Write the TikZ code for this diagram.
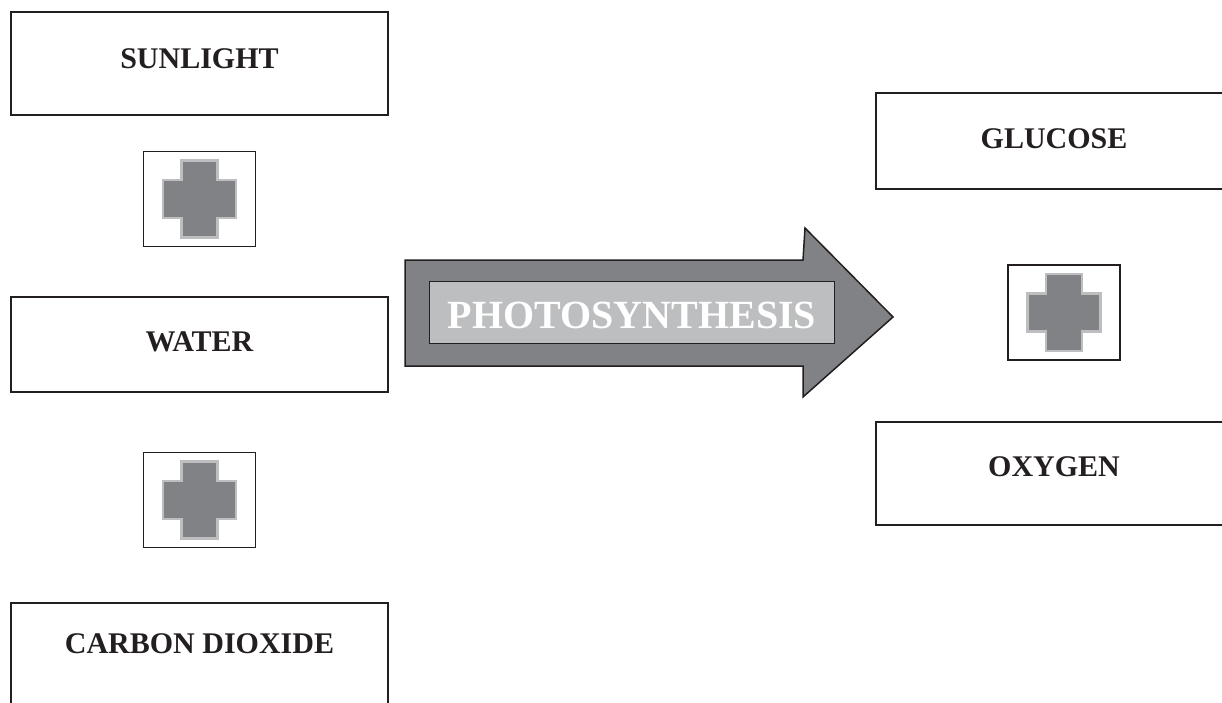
\documentclass[tikz,border=0pt]{standalone}
\usepackage{fontspec}
\setmainfont{Liberation Serif}
\usepackage{xcolor}
\usepackage{tikz}

\definecolor{ink}{HTML}{231F20}
\definecolor{arrowgray}{HTML}{808285}
\definecolor{palegray}{HTML}{BCBEC0}

\begin{document}
\begin{tikzpicture}[x=1pt, y=-1pt]
  % Styles
  \tikzstyle{item}=[draw=ink, line width=2.6pt, minimum width=377pt, inner sep=0pt, text=ink, font=\fontsize{30}{33}\selectfont\bfseries, text height=20pt, text depth=10pt]
  \tikzstyle{plusbox}=[draw=ink, line width=1.1pt, minimum width=112pt, minimum height=95pt, inner sep=0pt]
  \tikzstyle{cross}=[fill=arrowgray, draw=palegray, line width=2.5pt, line join=miter]
  \tikzstyle{bigarrow}=[fill=arrowgray, draw=ink, line width=1.5pt, line join=miter]
  \tikzstyle{banner}=[fill=palegray, draw=ink, line width=1pt, minimum width=405pt, minimum height=62pt, inner sep=0pt, text=white, font=\fontsize{40}{44}\selectfont\bfseries, text height=32pt, text depth=0pt]

  \clip (0,0) rectangle (1222,702);

  % Left column: reactants
  \node[item, minimum height=103pt] (l_sun) at (199.5,63.5) {SUNLIGHT};
  \node[plusbox] (l_p1) at (199.5,199) {};
  \node[item, minimum height=95pt, text depth=6pt] (l_water) at (199.5,344.5) {WATER};
  \node[plusbox] (l_p2) at (199.5,500) {};
  \node[item, minimum height=101pt, text depth=20pt] (l_co2) at (199.5,653.5) {CARBON DIOXIDE};

  % Middle: process arrow
  \draw[bigarrow] (405,260) -- (803,260) -- (805,228) -- (893,317) -- (803,397)
    -- (803,366) -- (405,366) -- cycle;
  \node[banner] (photo) at (632,312) {PHOTOSYNTHESIS};

  % Right column: products
  \node[item, minimum width=356pt, minimum height=96pt, text depth=6pt] (r_glu) at (1054,141) {GLUCOSE};
  \node[plusbox] (r_p1) at (1064,312.5) {};
  \node[item, minimum width=356pt, minimum height=103pt, text depth=14pt] (r_oxy) at (1054,473.5) {OXYGEN};

  % Plus signs
  \foreach \p in {l_p1,l_p2,r_p1}
    \draw[cross, shift={(\p.center)}] (-18,-38.5) -- (18,-38.5) -- (18,-19) -- (36.5,-19)
      -- (36.5,19) -- (18,19) -- (18,38.5) -- (-18,38.5) -- (-18,19) -- (-36.5,19)
      -- (-36.5,-19) -- (-18,-19) -- cycle;
\end{tikzpicture}
\end{document}
